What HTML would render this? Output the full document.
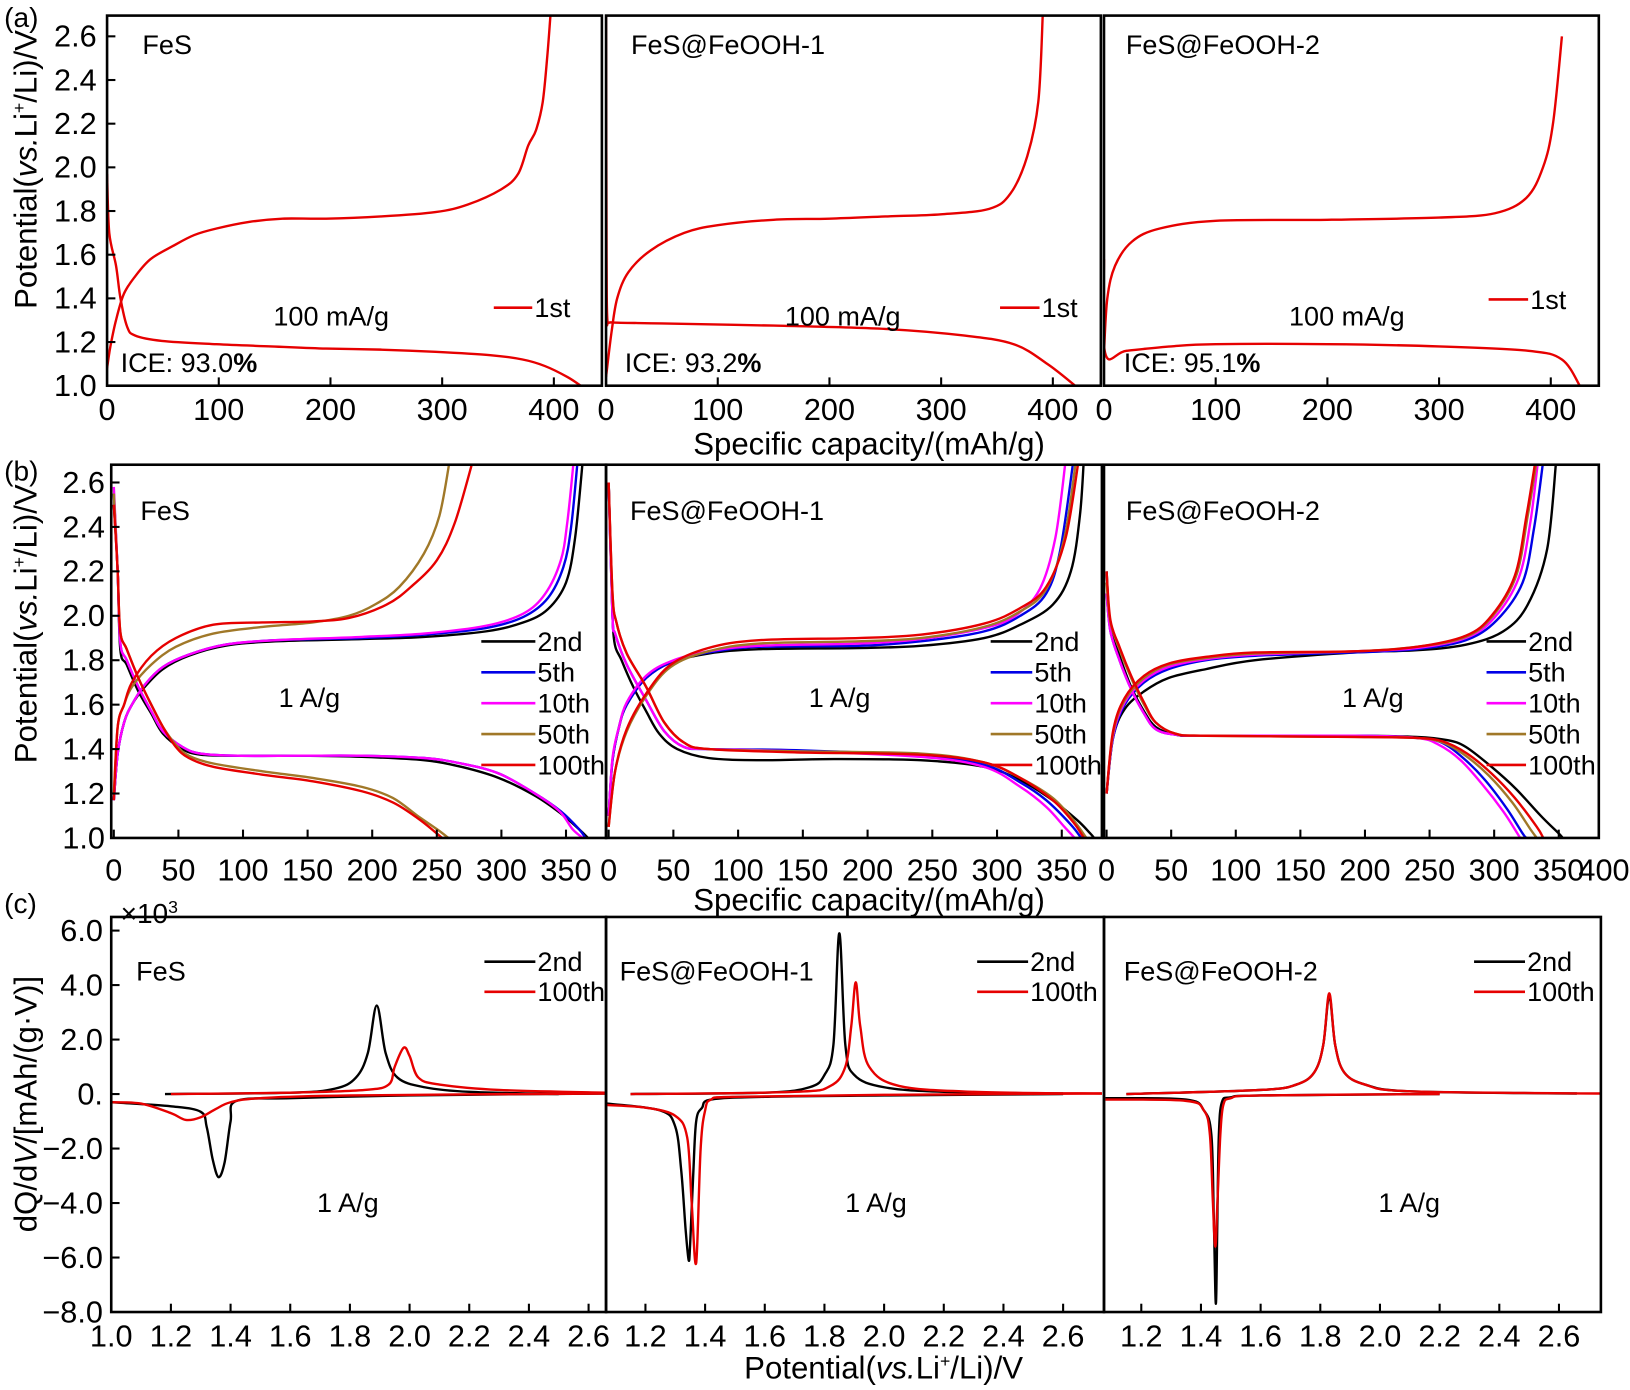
<!DOCTYPE html>
<html><head><meta charset="utf-8"><style>
html,body{margin:0;padding:0;background:#fff;}
svg{display:block;font-family:"Liberation Sans",Arial,sans-serif;}
</style></head><body>
<svg id="fig" width="1630" height="1390" viewBox="0 0 1568 1337" preserveAspectRatio="none" xmlns="http://www.w3.org/2000/svg"></svg>
<script>
// ===== Data (a): first-cycle curves, [capacity mAh/g, potential V] =====
const aFeS_dis=[[0,1.97],[2,1.7],[8,1.55],[12,1.4],[18,1.27],[25,1.23],[49,1.205],[98,1.19],[147,1.18],[196,1.17],[245,1.165],[294,1.155],[343,1.14],[372,1.12],[392,1.09],[412,1.04],[424,1.0]];
const aFeS_chg=[[0,1.08],[3,1.18],[8,1.3],[15,1.42],[25,1.5],[39,1.58],[59,1.64],[78,1.69],[98,1.72],[127,1.75],[157,1.765],[196,1.765],[245,1.775],[294,1.795],[323,1.83],[353,1.9],[368,1.97],[377,2.1],[384,2.17],[390,2.3],[394,2.5],[397,2.7]];
const aF1_dis=[[0,2.7],[0.5,1.6],[1.2,1.3],[5,1.29],[50,1.285],[150,1.275],[250,1.26],[320,1.23],[365,1.19],[395,1.1],[420,1.0]];
const aF1_chg=[[0,1.04],[5,1.25],[10,1.4],[20,1.52],[40,1.62],[70,1.7],[100,1.735],[150,1.76],[200,1.765],[250,1.775],[300,1.785],[343,1.81],[362,1.88],[377,2.05],[387,2.3],[391,2.7]];
const aF2_dis=[[0,1.58],[1,1.15],[20,1.16],[60,1.18],[100,1.19],[200,1.19],[300,1.18],[380,1.16],[410,1.12],[426,1.0]];
const aF2_chg=[[0,1.15],[3,1.4],[10,1.55],[25,1.66],[50,1.72],[100,1.755],[200,1.76],[300,1.77],[350,1.79],[378,1.86],[393,2.0],[402,2.2],[410,2.6]];
// ===== Data (b): 1 A/g cycles =====
const cycleLabels=["2nd","5th","10th","50th","100th"];
const cycleColors=["#000000","#0000e6","#ff00ff","#a07828","#e60000"];
const bFeS_dis=[
[[0,2.5],[3,2.2],[5,1.85],[10,1.78],[19,1.66],[29,1.56],[38,1.47],[53,1.4],[67,1.375],[96,1.37],[144,1.37],[192,1.365],[240,1.35],[269,1.32],[298,1.27],[326,1.19],[346,1.11],[360,1.04],[367,1.0]],
[[0,2.55],[3,2.2],[5,1.88],[10,1.8],[19,1.68],[29,1.57],[38,1.48],[53,1.41],[67,1.38],[96,1.37],[144,1.37],[192,1.37],[240,1.36],[269,1.335],[298,1.29],[326,1.2],[346,1.12],[360,1.04],[365,1.0]],
[[0,2.58],[3,2.2],[5,1.88],[10,1.8],[19,1.68],[29,1.57],[38,1.48],[53,1.41],[67,1.38],[96,1.37],[144,1.37],[192,1.37],[240,1.36],[269,1.335],[298,1.29],[326,1.2],[345,1.12],[355,1.04],[363,1.0]],
[[0,2.55],[3,2.2],[5,1.93],[10,1.85],[19,1.72],[29,1.6],[38,1.5],[48,1.42],[58,1.37],[77,1.335],[115,1.3],[154,1.27],[192,1.23],[216,1.18],[235,1.1],[250,1.04],[259,1.0]],
[[0,2.5],[3,2.2],[5,1.93],[10,1.85],[19,1.72],[29,1.6],[38,1.5],[48,1.41],[58,1.36],[77,1.32],[115,1.285],[154,1.255],[192,1.21],[216,1.16],[235,1.09],[248,1.03],[254,1.0]]];
const bFeS_chg=[
[[0,1.17],[3,1.38],[8,1.52],[14,1.6],[24,1.68],[38,1.76],[58,1.82],[86,1.865],[125,1.885],[192,1.895],[240,1.905],[288,1.93],[317,1.97],[336,2.03],[350,2.15],[357,2.35],[363,2.7]],
[[0,1.17],[3,1.38],[8,1.52],[14,1.6],[24,1.69],[38,1.77],[58,1.825],[86,1.87],[125,1.89],[192,1.9],[240,1.915],[288,1.945],[317,1.995],[336,2.08],[348,2.22],[354,2.4],[359,2.7]],
[[0,1.17],[3,1.38],[8,1.52],[14,1.6],[24,1.69],[38,1.77],[58,1.825],[86,1.87],[125,1.89],[192,1.905],[240,1.92],[288,1.955],[317,2.01],[334,2.1],[346,2.25],[351,2.42],[356,2.7]],
[[0,1.2],[3,1.5],[8,1.6],[14,1.68],[29,1.78],[48,1.86],[77,1.92],[115,1.95],[154,1.97],[182,2.0],[202,2.05],[221,2.13],[240,2.28],[252,2.45],[260,2.7]],
[[0,1.17],[3,1.5],[8,1.6],[14,1.7],[29,1.82],[48,1.9],[77,1.96],[115,1.97],[154,1.975],[182,1.99],[211,2.05],[230,2.13],[250,2.25],[264,2.42],[278,2.7]]];
const bF1_dis=[
[[0,2.6],[2,2.2],[4,1.9],[10,1.8],[19,1.68],[29,1.57],[39,1.47],[53,1.4],[77,1.36],[116,1.35],[174,1.355],[241,1.35],[290,1.32],[318,1.26],[343,1.17],[362,1.08],[372,1.02],[375,1.0]],
[[0,2.6],[3,2.0],[5,1.92],[14,1.78],[29,1.62],[43,1.48],[58,1.41],[77,1.4],[145,1.395],[241,1.37],[290,1.33],[318,1.25],[338,1.17],[357,1.06],[365,1.0]],
[[0,2.6],[3,2.0],[5,1.92],[14,1.78],[29,1.62],[43,1.48],[58,1.41],[77,1.4],[145,1.39],[241,1.365],[290,1.32],[318,1.23],[338,1.14],[352,1.05],[360,1.0]],
[[0,2.6],[3,2.1],[6,1.97],[14,1.83],[29,1.68],[43,1.52],[58,1.43],[77,1.4],[145,1.39],[241,1.38],[290,1.34],[318,1.27],[343,1.18],[359,1.08],[369,1.0]],
[[0,2.6],[3,2.1],[6,1.97],[14,1.83],[29,1.68],[43,1.52],[58,1.43],[77,1.4],[145,1.385],[241,1.375],[290,1.34],[318,1.27],[343,1.17],[359,1.07],[367,1.0]]];
const bF1_chg=[
[[0,1.1],[3,1.35],[8,1.5],[14,1.6],[29,1.72],[48,1.79],[77,1.83],[116,1.85],[193,1.855],[241,1.865],[290,1.9],[318,1.96],[343,2.05],[357,2.2],[364,2.45],[367,2.7]],
[[0,1.1],[3,1.35],[8,1.5],[14,1.6],[29,1.72],[48,1.79],[77,1.835],[116,1.86],[193,1.865],[241,1.885],[290,1.93],[318,2.0],[338,2.1],[349,2.3],[359,2.7]],
[[0,1.1],[3,1.36],[8,1.5],[14,1.61],[29,1.73],[48,1.795],[77,1.84],[116,1.865],[193,1.875],[241,1.895],[290,1.945],[314,2.0],[333,2.12],[345,2.35],[353,2.7]],
[[0,1.05],[5,1.3],[14,1.48],[29,1.64],[48,1.77],[77,1.84],[116,1.875],[193,1.885],[241,1.9],[290,1.95],[318,2.02],[338,2.12],[352,2.35],[361,2.7]],
[[0,1.05],[5,1.3],[14,1.49],[29,1.65],[48,1.78],[77,1.855],[116,1.89],[193,1.9],[241,1.915],[290,1.965],[318,2.035],[338,2.13],[353,2.35],[363,2.7]]];
const bF2_dis=[
[[0,2.2],[3,1.95],[10,1.82],[19,1.68],[29,1.57],[38,1.5],[53,1.465],[77,1.46],[192,1.46],[240,1.455],[264,1.44],[278,1.41],[298,1.32],[317,1.22],[336,1.1],[350,1.02],[353,1.0]],
[[0,2.1],[3,1.93],[10,1.8],[19,1.67],[29,1.56],[38,1.49],[53,1.465],[77,1.46],[192,1.46],[240,1.45],[259,1.43],[276,1.36],[293,1.26],[310,1.13],[322,1.02],[325,1.0]],
[[0,2.1],[3,1.93],[10,1.8],[19,1.67],[29,1.56],[38,1.49],[53,1.465],[77,1.46],[192,1.46],[240,1.45],[257,1.42],[274,1.35],[291,1.24],[307,1.12],[318,1.02],[320,1.0]],
[[0,2.15],[3,1.97],[10,1.85],[19,1.72],[29,1.6],[38,1.52],[53,1.47],[77,1.46],[192,1.455],[240,1.45],[260,1.43],[278,1.37],[296,1.28],[314,1.16],[328,1.04],[333,1.0]],
[[0,2.2],[3,1.98],[10,1.86],[19,1.73],[29,1.61],[38,1.52],[53,1.47],[77,1.46],[192,1.455],[240,1.45],[260,1.435],[279,1.38],[298,1.29],[316,1.18],[333,1.05],[338,1.0]]];
const bF2_chg=[
[[0,1.2],[5,1.45],[14,1.58],[29,1.66],[48,1.72],[77,1.76],[115,1.8],[192,1.835],[240,1.845],[278,1.87],[307,1.93],[326,2.05],[341,2.3],[348,2.7]],
[[0,1.2],[5,1.45],[14,1.6],[29,1.7],[48,1.76],[77,1.8],[115,1.82],[192,1.835],[240,1.85],[278,1.89],[302,1.98],[322,2.15],[331,2.4],[338,2.7]],
[[0,1.2],[5,1.46],[14,1.61],[29,1.71],[48,1.77],[77,1.805],[115,1.825],[192,1.84],[240,1.855],[278,1.9],[300,1.99],[319,2.17],[328,2.42],[334,2.7]],
[[0,1.2],[5,1.47],[14,1.62],[29,1.72],[48,1.78],[77,1.81],[115,1.83],[192,1.84],[240,1.86],[278,1.905],[299,2.0],[317,2.18],[326,2.45],[333,2.7]],
[[0,1.2],[5,1.48],[14,1.63],[29,1.73],[48,1.785],[77,1.815],[115,1.835],[192,1.84],[240,1.86],[278,1.91],[298,2.0],[316,2.18],[325,2.45],[332,2.7]]];
// ===== Data (c): dQ/dV (x10^3) vs potential =====
const dqLabels=["2nd","100th"];
const cFeS_2=[[[1.18,0],[1.6,0.05],[1.75,0.2],[1.82,0.6],[1.86,1.5],[1.89,3.25],[1.92,1.5],[1.96,0.6],[2.05,0.25],[2.2,0.08],[2.5,0.0]],
 [[2.66,0.02],[2.0,-0.05],[1.6,-0.15],[1.42,-0.25],[1.4,-1.0],[1.38,-2.5],[1.36,-3.05],[1.34,-2.4],[1.32,-1.2],[1.3,-0.65],[1.2,-0.45],[1.0,-0.3]]];
const cFeS_100=[[[1.2,0],[1.6,0.05],[1.85,0.15],[1.93,0.35],[1.95,1.0],[1.98,1.7],[2.0,1.4],[2.03,0.6],[2.1,0.35],[2.3,0.15],[2.66,0.05]],
 [[2.66,0.02],[1.8,-0.05],[1.5,-0.15],[1.4,-0.3],[1.35,-0.55],[1.3,-0.85],[1.25,-0.95],[1.2,-0.7],[1.1,-0.35],[1.0,-0.3]]];
const cF1_2=[[[1.15,0],[1.6,0.05],[1.75,0.25],[1.8,0.7],[1.83,1.8],[1.85,5.9],[1.87,1.8],[1.9,0.7],[2.0,0.25],[2.2,0.08],[2.6,0.02]],
 [[2.6,0],[2.0,-0.05],[1.6,-0.1],[1.42,-0.2],[1.39,-0.5],[1.37,-1.0],[1.36,-3.0],[1.35,-5.5],[1.345,-6.1],[1.335,-5.0],[1.32,-2.8],[1.3,-1.2],[1.25,-0.6],[1.07,-0.35]]];
const cF1_100=[[[1.15,0],[1.7,0.08],[1.82,0.3],[1.87,1.0],[1.89,2.5],[1.905,4.1],[1.92,2.5],[1.95,1.0],[2.05,0.3],[2.3,0.08],[2.73,0.02]],
 [[2.73,0.02],[2.0,-0.03],[1.5,-0.1],[1.42,-0.2],[1.4,-0.6],[1.385,-2.0],[1.37,-6.2],[1.355,-4.0],[1.34,-1.6],[1.3,-0.8],[1.2,-0.5],[1.07,-0.4]]];
const cF2_2=[[[1.15,0],[1.6,0.15],[1.72,0.35],[1.78,0.8],[1.81,1.8],[1.83,3.6],[1.85,1.8],[1.88,0.8],[1.95,0.35],[2.1,0.1],[2.66,0.02]],
 [[2.2,0.0],[1.6,-0.05],[1.5,-0.12],[1.47,-0.3],[1.46,-1.5],[1.455,-4.5],[1.45,-7.7],[1.443,-4.5],[1.435,-1.5],[1.41,-0.6],[1.35,-0.2],[1.08,-0.15]]];
const cF2_100=[[[1.15,0],[1.6,0.15],[1.72,0.35],[1.78,0.8],[1.81,1.8],[1.83,3.7],[1.85,1.8],[1.88,0.8],[1.95,0.35],[2.1,0.1],[2.74,0.02]],
 [[2.2,0.0],[1.6,-0.05],[1.5,-0.15],[1.475,-0.4],[1.465,-1.5],[1.455,-4.0],[1.448,-5.6],[1.44,-4.0],[1.43,-1.5],[1.41,-0.6],[1.35,-0.25],[1.08,-0.2]]];
const aTicks=[0,100,200,300,400];
const aYTicks=[1.0,1.2,1.4,1.6,1.8,2.0,2.2,2.4,2.6];
const bTicks=[0,50,100,150,200,250,300,350];
const cYTicks=[6,4,2,0,-2,-4,-6,-8];
const cYLabels=["6.0","4.0","2.0","0.","\u22122.0","\u22124.0","\u22126.0","\u22128.0"];
const cTicksL=[1.0,1.2,1.4,1.6,1.8,2.0,2.2,2.4,2.6];
const cTicksR=[1.2,1.4,1.6,1.8,2.0,2.2,2.4,2.6];

const NS="http://www.w3.org/2000/svg";
const svg=document.getElementById('fig');
const TICK=29.5, ANN=26;
let clipId=0;
function mk(tag,attrs,parent){const e=document.createElementNS(NS,tag);for(const k in attrs)e.setAttribute(k,attrs[k]);(parent||svg).appendChild(e);return e;}
function txt(s,x,y,size,anchor,name,parent){const t=mk('text',{x:x,y:y,'font-size':size,'text-anchor':anchor||'start',fill:'#000'},parent);t.textContent=s;


return t;}
function pathD(pts){
 let d='M'+pts[0][0].toFixed(1)+','+pts[0][1].toFixed(1);
 for(let i=0;i<pts.length-1;i++){const p0=pts[Math.max(0,i-1)],p1=pts[i],p2=pts[i+1],p3=pts[Math.min(pts.length-1,i+2)];
  const c1=[p1[0]+(p2[0]-p0[0])/6,p1[1]+(p2[1]-p0[1])/6],c2=[p2[0]-(p3[0]-p1[0])/6,p2[1]-(p3[1]-p1[1])/6];
  d+=' C'+c1[0].toFixed(1)+','+c1[1].toFixed(1)+' '+c2[0].toFixed(1)+','+c2[1].toFixed(1)+' '+p2[0].toFixed(1)+','+p2[1].toFixed(1);}
 return d;}
function makePanel(p,name){
 const g=mk('g',{});
 
 
 const id='clip'+(clipId++);
 const cp=mk('clipPath',{id:id},g);mk('rect',{x:p.x0,y:p.y0,width:p.x1-p.x0,height:p.y1-p.y0},cp);
 p.sx=v=>p.x0+(v-p.xmin)/(p.xmax-p.xmin)*(p.x1-p.x0);
 p.sy=v=>p.y1-(v-p.ymin)/(p.ymax-p.ymin)*(p.y1-p.y0);
 p.g=g;p.clip=id;return p;}
function series(p,pts,color,name){
 const e=mk('path',{d:pathD(pts.map(q=>[p.sx(q[0]),p.sy(q[1])])),fill:'none',stroke:color,'stroke-width':2.3,'clip-path':'url(#'+p.clip+')','stroke-linejoin':'round'},p.g);
 
 }
function frame(p,name){const r=mk('rect',{x:p.x0,y:p.y0,width:p.x1-p.x0,height:p.y1-p.y0,fill:'none',stroke:'#000','stroke-width':2.5},p.g);
 
 }
function xticks(p,ticks,labels,ly,name){ticks.forEach((t,i)=>{const x=p.sx(t);
 if(x>p.x0+2&&x<p.x1-2){const l=mk('line',{x1:x,x2:x,y1:p.y1,y2:p.y1-8,stroke:'#000','stroke-width':2},p.g);
 
 }
 txt(labels[i],x,ly,TICK,'middle',name+'-label',p.g);});}
function yticks(p,ticks,labels,lx,name){ticks.forEach((t,i)=>{const y=p.sy(t);
 if(y>p.y0+2&&y<p.y1-2){const l=mk('line',{x1:p.x0,x2:p.x0+8,y1:y,y2:y,stroke:'#000','stroke-width':2},p.g);
 
 }
 txt(labels[i],lx,y+10,TICK,'end',name+'-label',p.g);});}
function legendRow(p,x1,x2,y,color,label,name){const l=mk('line',{x1:x1,x2:x2,y1:y,y2:y,stroke:color,'stroke-width':2.5},p.g);
 
 
 txt(label,x2+2,y+9,ANN,'start',name+'-text',p.g);}

// ===== Panel (a) =====
const aCfg=[[103,579,aFeS_dis,aFeS_chg,'FeS',137,'93.0',116,475,512,296],[583,1059,aF1_dis,aF1_chg,'FeS@FeOOH-1',607,'93.2',601,962,1000,296],[1062,1538,aF2_dis,aF2_chg,'FeS@FeOOH-2',1083,'95.1',1081,1432,1470,288]];
aCfg.forEach((c,i)=>{const p=makePanel({x0:c[0],x1:c[1],y0:15,y1:371,xmin:0,xmax:443,ymin:1.0,ymax:2.695},'panel-a-'+(i+1));
 series(p,c[2],'#e60000','discharge-1st');series(p,c[3],'#e60000','charge-1st');frame(p,'plot-frame');
 xticks(p,aTicks,aTicks.map(String),404,'x-axis');
 if(i===0)yticks(p,aYTicks,aYTicks.map(v=>v.toFixed(1)),93,'y-axis');
 txt(c[4],c[5],52,ANN,'start','sample-label',p.g);
 txt('100 mA/g',[263,755,1240][i],313,ANN,'start','current-density',p.g);
 const t=txt('ICE: '+c[6],c[7],358,ANN,'start','ice-value',p.g);const b=mk('tspan',{'font-weight':'bold'},t);b.textContent='%';
 legendRow(p,c[8],c[9],c[10],'#e60000','1st','legend-1st');});
txt('Specific capacity/(mAh/g)',836,437,30,'middle','x-axis-title-a');

// ===== Panel (b) =====
const bCfg=[[107,583,bFeS_dis,bFeS_chg,'FeS',135,463,268],[583,1060,bF1_dis,bF1_chg,'FeS@FeOOH-1',606,953,778],[1062,1538,bF2_dis,bF2_chg,'FeS@FeOOH-2',1083,1430,1291]];
bCfg.forEach((c,i)=>{const p=makePanel({x0:c[0],x1:c[1],y0:447,y1:806,xmin:-2,xmax:381,ymin:1.0,ymax:2.68},'panel-b-'+(i+1));
 for(let k=0;k<5;k++){series(p,c[2][k],cycleColors[k],'discharge-'+cycleLabels[k]);series(p,c[3][k],cycleColors[k],'charge-'+cycleLabels[k]);}
 frame(p,'plot-frame');
 xticks(p,bTicks,bTicks.map(String),847,'x-axis');
 if(i===2)txt('400',1543,847,TICK,'middle','x-axis-label',p.g);
 if(i===0)yticks(p,aYTicks,aYTicks.map(v=>v.toFixed(1)),101,'y-axis');
 txt(c[4],c[5],500,ANN,'start','sample-label',p.g);
 txt('1 A/g',c[7],680,ANN,'start','current-density',p.g);
 for(let k=0;k<5;k++)legendRow(p,c[6],c[6]+(i===2?38:52)-(i===1?12:0),617+k*29.7,cycleColors[k],cycleLabels[k],'legend-'+cycleLabels[k]);});
txt('Specific capacity/(mAh/g)',836,876,30,'middle','x-axis-title-b');

// ===== Panel (c) =====
const cCfg=[[107,583,1.0,cFeS_2,cFeS_100,'FeS',131,466,305,cTicksL],[583,1062,1.068,cF1_2,cF1_100,'FeS@FeOOH-1',596,940,813,cTicksR],[1062,1540,1.075,cF2_2,cF2_100,'FeS@FeOOH-2',1081,1418,1326,cTicksR]];
cCfg.forEach((c,i)=>{const xr=(c[1]-c[0])/287;const p=makePanel({x0:c[0],x1:c[1],y0:882,y1:1262,xmin:c[2],xmax:c[2]+xr,ymin:-8,ymax:6.5},'panel-c-'+(i+1));
 c[3].forEach((s,j)=>series(p,s,'#000','dqdv-2nd-'+j));c[4].forEach((s,j)=>series(p,s,'#e60000','dqdv-100th-'+j));
 frame(p,'plot-frame');
 xticks(p,c[9],c[9].map(v=>v.toFixed(1)),1295,'x-axis');
 if(i===0)yticks(p,cYTicks,cYLabels,99,'y-axis');
 txt(c[5],c[6],943,ANN,'start','sample-label',p.g);
 txt('1 A/g',c[8],1166,ANN,'start','current-density',p.g);
 legendRow(p,c[7],c[7]+49,925,'#000','2nd','legend-2nd');legendRow(p,c[7],c[7]+49,954,'#e60000','100th','legend-100th');});
const ex=txt('\u00d710',116,888,27,'start','y-axis-multiplier');const es=mk('tspan',{'font-size':17,dy:-10},ex);es.textContent='3';
const xt=txt('Potential(',850,1326,30,'middle','x-axis-title-c');
let s1=mk('tspan',{'font-style':'italic'},xt);s1.textContent='vs.';let s2=mk('tspan',{},xt);s2.textContent='Li';
let s3=mk('tspan',{'font-size':17,dy:-11},xt);s3.textContent='+';let s4=mk('tspan',{dy:11},xt);s4.textContent='/Li)/V';

function ytitle(cy,name,parts){const t=mk('text',{x:0,y:0,'font-size':30,'text-anchor':'middle',transform:'translate(35,'+cy+') rotate(-90)'});
 
 
 parts.forEach(pt=>{const s=mk('tspan',pt[1]||{},t);s.textContent=pt[0];});}
const potParts=[['Potential('],['vs.',{'font-style':'italic'}],['Li'],['+',{'font-size':17,dy:-11}],['/Li)/V',{dy:11}]];
ytitle(163,'y-axis-title-a',potParts);
ytitle(600,'y-axis-title-b',potParts);
ytitle(1062,'y-axis-title-c',[['dQ/d'],['V',{'font-style':'italic'}],['/[mAh/(g\u00b7V)]']]);
txt('(a)',4,26,27,'start','panel-label-a');
txt('(b)',4,462,27,'start','panel-label-b');
txt('(c)',4,878,27,'start','panel-label-c');
</script>
</body></html>
